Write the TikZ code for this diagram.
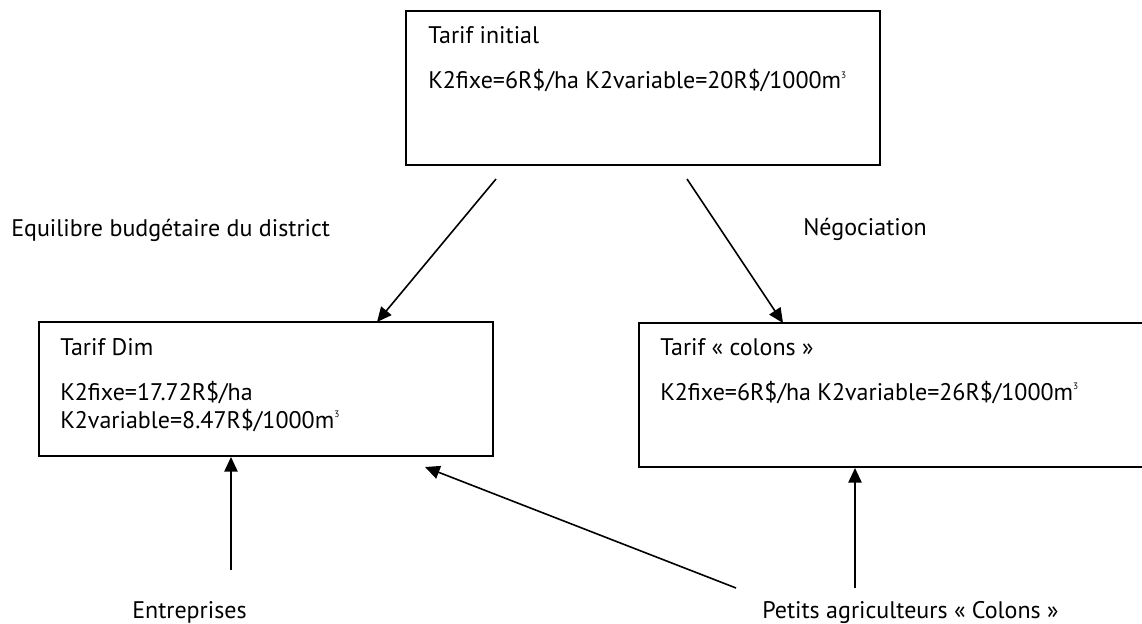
\documentclass[tikz,border=0pt]{standalone}
\usepackage{fontspec}
\setmainfont{PT Sans}
\usetikzlibrary{arrows.meta,fit}
\newcommand{\cubesup}{\raisebox{0.9ex}{\fontsize{7}{7}\selectfont 3}}
\begin{document}
\begin{tikzpicture}[x=0.75pt,y=-0.75pt,
  box/.style={draw, line width=1.4pt, inner sep=0pt},
  txt/.style={anchor=base west, inner sep=0pt, font=\fontsize{18}{21}\selectfont},
  arr/.style={line width=1.2pt, -{Triangle[length=11pt,width=10pt]}}]
\useasboundingbox (0,0) rectangle (1142,624);
% boxes
\node[box, fit={(406,11)(880,165)}] (init) {};
\node[box, fit={(39,322)(493,456)}] (dim) {};
\node[box, fit={(639,323)(1160,467)}] (colons) {};
% box texts
\node[txt] (init1) at (428,44) {Tarif initial};
\node[txt] (init2) at (428,89) {K2fixe=6R\$/ha K2variable=20R\$/1000m\cubesup};
\node[txt] (dim1) at (60,355) {Tarif Dim};
\node[txt] (dim2) at (60,400) {K2fixe=17.72R\$/ha};
\node[txt] (dim3) at (60,428) {K2variable=8.47R\$/1000m\cubesup};
\node[txt] (col1) at (660,355) {Tarif « colons »};
\node[txt] (col2) at (660,400) {K2fixe=6R\$/ha K2variable=26R\$/1000m\cubesup};
% labels
\node[txt] (equi) at (11,236) {Equilibre budgétaire du district};
\node[txt] (nego) at (803,235) {Négociation};
\node[txt] (entr) at (132,618) {Entreprises};
\node[txt] (petits) at (762,618) {Petits agriculteurs « Colons »};
% connector ends
\coordinate (s1) at (496,179);
\coordinate (e1) at (377,322);
\coordinate (s2) at (687,179);
\coordinate (e2) at (783,323);
\coordinate (s3) at (231,570);
\coordinate (e3) at (231,457);
\coordinate (s4) at (736,588);
\coordinate (e4) at (425,467);
\coordinate (s5) at (855,588);
\coordinate (e5) at (855,468);
\draw[arr] (s1) -- (e1);
\draw[arr] (s2) -- (e2);
\draw[arr] (s3) -- (e3);
\draw[arr] (s4) -- (e4);
\draw[arr] (s5) -- (e5);
\end{tikzpicture}
\end{document}
